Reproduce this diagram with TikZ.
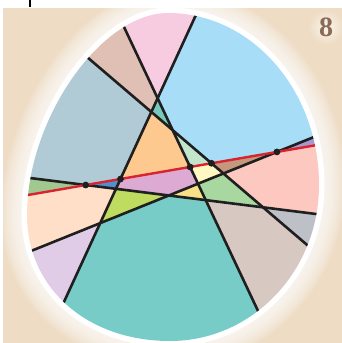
\documentclass[tikz,border=0pt]{standalone}
\usepackage{fontspec}
\newfontfamily\numfont{Liberation Serif}
\usetikzlibrary{calc}
\definecolor{sand}{HTML}{EEDCC4}
\definecolor{numbrown}{HTML}{8B6B55}
\definecolor{eggred}{HTML}{D9232E}
\definecolor{cpink}{HTML}{F8CCE0}
\definecolor{cbrown}{HTML}{E0C0B4}
\definecolor{cbluegray}{HTML}{B0CAD6}
\definecolor{csky}{HTML}{A8DDF8}
\definecolor{cteal}{HTML}{78C8BC}
\definecolor{corange}{HTML}{FDC98E}
\definecolor{cmint}{HTML}{C2E6CC}
\definecolor{ctan}{HTML}{C4977E}
\definecolor{cviolet}{HTML}{A898D0}
\definecolor{csalmon}{HTML}{FCC8C0}
\definecolor{cgray}{HTML}{BEC0C8}
\definecolor{cgreen}{HTML}{A8D8A0}
\definecolor{ccream}{HTML}{FFF8C0}
\definecolor{cyellow}{HTML}{F8E088}
\definecolor{corchid}{HTML}{DCAAD2}
\definecolor{clime}{HTML}{C0DC60}
\definecolor{cturq}{HTML}{78CCC8}
\definecolor{cstone}{HTML}{D8C8C2}
\definecolor{clavender}{HTML}{E0CCE6}
\definecolor{cpeach}{HTML}{FFDFC8}
\definecolor{cleaf}{HTML}{A0C890}
\definecolor{cblue}{HTML}{5090D0}
\tikzset{
  eggshape/.style={insert path={(168,13) .. controls (251.4,13) and (319,90) .. (319,185)
    .. controls (319,271.2) and (252.3,341) .. (170,341)
    .. controls (87.1,341) and (27,288.1) .. (27,215)
    .. controls (27,119.1) and (101,13) .. (168,13) -- cycle}},
  blackline/.style={line width=2.6pt, draw=black!88},
  redline/.style={line width=2.4pt, draw=eggred}
}
\begin{document}
\begin{tikzpicture}[x=1pt, y=-1pt]
  \useasboundingbox (0,0) rectangle (342,343);
  \fill[sand] (3,8) rectangle (342,343);
  \draw[line width=1.6pt] (30,0) -- (30,7);
  % soft white rim round the egg
  \foreach \w in {52,48,...,12} \draw[white, opacity=0.12, line width=\w pt, eggshape];
  \draw[white, line width=11pt, eggshape];
  % cutting lines: edge points, far points
  \foreach \n/\a/\b in {1/{124,27}/{259,313}, 2/{87,57}/{306,244}, 3/{195,17}/{63,304},
      4/{30,178}/{316,214}, 5/{31,251}/{314,137}, r/{28,195}/{317,145}} {
    \coordinate (A\n) at (\a);
    \coordinate (B\n) at (\b);
    \coordinate (FA\n) at ($(B\n)!2!(A\n)$);
    \coordinate (FB\n) at ($(A\n)!2!(B\n)$);
  }
  \foreach \i/\j in {1/2, 1/3, 2/3, 1/4, 1/5, 2/4, 2/5, 3/4, 3/5, 4/5, 1/r, 2/r, 3/r, 4/r, 5/r}
    \coordinate (p\i\j) at (intersection cs: first line={(A\i)--(B\i)}, second line={(A\j)--(B\j)});
  \begin{scope}
    \clip[eggshape];
    \fill[white] (0,0) rectangle (342,343);
    \fill[cpink] (p13) -- (FA1) -- (FA3) -- cycle;
    \fill[cbrown] (p23) -- (p13) -- (FA1) -- (FA2) -- cycle;
    \fill[csky] (FA3) -- (p13) -- (p12) -- (p2r) -- (p5r) -- (FB5) -- cycle;
    \fill[cteal] (p13) -- (p23) -- (p12) -- cycle;
    \fill[cbluegray] (FA2) -- (p23) -- (p3r) -- (p4r) -- (FA4) -- cycle;
    \fill[corange] (p23) -- (p12) -- (p1r) -- (p3r) -- cycle;
    \fill[cmint] (p12) -- (p2r) -- (p1r) -- cycle;
    \fill[ctan] (p2r) -- (p5r) -- (p25) -- cycle;
    \fill[cviolet] (p5r) -- (FB5) -- (FBr) -- cycle;
    \fill[csalmon] (p5r) -- (FBr) -- (FB4) -- (p24) -- (p25) -- cycle;
    \fill[cgray] (p24) -- (FB4) -- (FB2) -- cycle;
    \fill[cgreen] (p15) -- (p25) -- (p24) -- (p14) -- cycle;
    \fill[ccream] (p1r) -- (p2r) -- (p25) -- (p15) -- cycle;
    \fill[cyellow] (p45) -- (p15) -- (p14) -- cycle;
    \fill[corchid] (p3r) -- (p1r) -- (p15) -- (p45) -- (p34) -- cycle;
    \fill[clime] (p34) -- (p45) -- (p35) -- cycle;
    \fill[cturq] (p35) -- (p45) -- (p14) -- (FB1) -- (FB3) -- cycle;
    \fill[cstone] (p14) -- (p24) -- (FB2) -- (FB1) -- cycle;
    \fill[clavender] (p35) -- (FB3) -- (FA5) -- cycle;
    \fill[cpeach] (p4r) -- (p34) -- (p35) -- (FA5) -- (FAr) -- cycle;
    \fill[cleaf] (p4r) -- (FAr) -- (FA4) -- cycle;
    \fill[cblue] (p4r) -- (p3r) -- (p34) -- cycle;
    \foreach \n in {1,...,5} \draw[blackline] (FA\n) -- (FB\n);
    \draw[redline] (FAr) -- (FBr);
  \end{scope}
  \foreach \p in {p4r, p3r, p1r, p2r, p5r} \fill[black!88] (\p) circle[radius=3.4];
  % page number
  \shade[inner color=white!70!sand, outer color=sand] (326,27) circle[radius=18];
  \node[text=numbrown, font=\numfont\bfseries\fontsize{28}{28}\selectfont] (num) at (326,27) {8};
\end{tikzpicture}
\end{document}
